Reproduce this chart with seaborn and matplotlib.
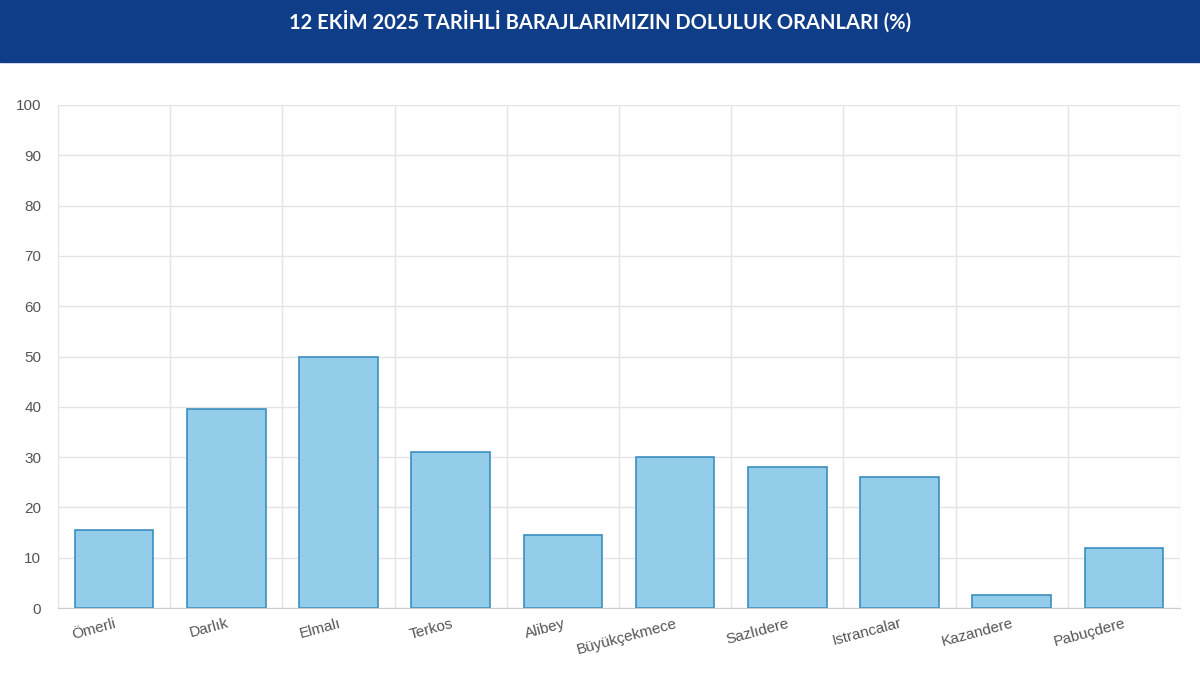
import matplotlib
matplotlib.use("Agg")
import matplotlib.pyplot as plt
import seaborn as sns
import pandas as pd
from matplotlib.patches import Rectangle

barajlar = ["Ömerli", "Darlık", "Elmalı", "Terkos", "Alibey", "Büyükçekmece",
            "Sazlıdere", "Istrancalar", "Kazandere", "Pabuçdere"]
doluluk = [15.5, 39.6, 49.9, 31.0, 14.6, 30.0, 28.0, 26.0, 2.6, 11.9]
yticks = list(range(0, 101, 10))

df = pd.DataFrame({"baraj": barajlar, "oran": doluluk})

sns.set_style("white")
plt.rcParams['font.family'] = ['Liberation Sans', 'DejaVu Sans']

fig = plt.figure(figsize=(12, 6.73), dpi=100)
fig.patches.append(Rectangle((0, 1 - 62 / 673), 1, 62 / 673, transform=fig.transFigure,
                             color="#0f3d87", zorder=0))
fig.text(0.5, 1 - 22 / 673, "12 EKİM 2025 TARİHLİ BARAJLARIMIZIN DOLULUK ORANLARI (%)",
         ha="center", va="center", color="white", fontsize=14.5, fontweight="bold",
         family=["Lato", "DejaVu Sans"])

ax = fig.add_axes([58 / 1200, 1 - 608 / 673, 1122 / 1200, 503 / 673])
sns.barplot(data=df, x="baraj", y="oran", ax=ax, color="#93cdea", width=0.7,
            edgecolor="#3b8fc0", linewidth=1.2, saturation=1)
ax.set_ylim(0, 100)
ax.set_xlim(-0.5, len(barajlar) - 0.5)
ax.set_yticks(yticks)
ax.set_xlabel("")
ax.set_ylabel("")
ax.set_axisbelow(True)
ax.yaxis.grid(True, color="#e4e4e8", linewidth=1)
for i in range(len(barajlar) + 1):
    ax.axvline(i - 0.5, color="#e4e4e8", linewidth=1, zorder=0)
ax.tick_params(axis="y", labelsize=11, labelcolor="#555555", length=0, pad=12)
ax.tick_params(axis="x", labelsize=11, labelcolor="#555555", length=0, pad=6)
plt.setp(ax.get_xticklabels(), rotation=15, ha="right", rotation_mode="anchor")
for s in ["top", "right", "left"]:
    ax.spines[s].set_visible(False)
ax.spines["bottom"].set_color("#cccccc")

fig.savefig("out.png", dpi=100)
